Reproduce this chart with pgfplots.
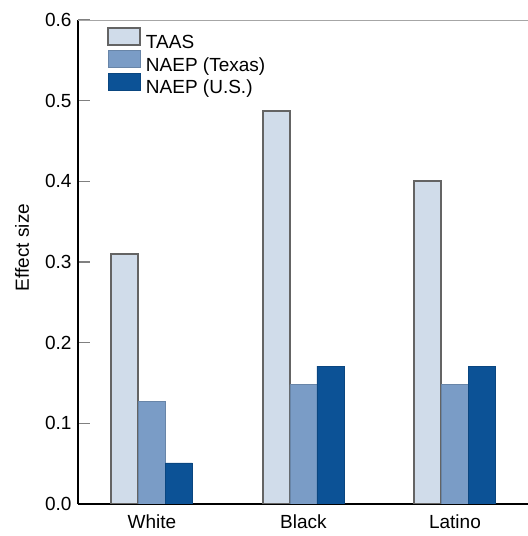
\documentclass[border=0pt]{standalone}
\usepackage{fontspec}
\setmainfont{Liberation Sans}
\usepackage{pgfplots}
\pgfplotsset{compat=1.18}
\definecolor{taas}{RGB}{208,220,234}
\definecolor{taasedge}{RGB}{100,100,100}
\definecolor{naeptx}{RGB}{122,156,198}
\definecolor{naepus}{RGB}{12,82,150}
\begin{document}
\fontsize{19bp}{22bp}\selectfont
\begin{tikzpicture}
\useasboundingbox (0,0) rectangle (528bp,536bp);
\begin{axis}[
    at={(78bp,32bp)}, anchor=south west,
    scale only axis, width=450bp, height=484bp,
    xmin=-0.488, xmax=2.482,
    ymin=0, ymax=0.6,
    ybar=0pt, bar width=27bp,
    axis lines*=left,
    axis line style={-, black, line width=2bp},
    xtick={0,1,2}, xticklabels={White,Black,Latino},
    xtick style={draw=none},
    xticklabel style={yshift=-4bp},
    ytick={0,0.1,0.2,0.3,0.4,0.5,0.6},
    ytick style={draw=gray, line width=1.2bp},
    tick align=inside, major tick length=12bp,
    /pgf/number format/assume math mode=true,
    yticklabel style={/pgf/number format/fixed, /pgf/number format/fixed zerofill, /pgf/number format/precision=1},
    ylabel={Effect size},
    every axis y label/.style={at={(rel axis cs:-0.124,0.53)}, rotate=90, anchor=center},
    legend cell align=left,
    legend style={draw=none, fill=none, at={(0.064,0.985)}, anchor=north west,
        row sep=-3.5bp, inner sep=0pt, column sep=0pt,
        nodes={inner sep=0pt, text height=15bp, text depth=5bp}},
    legend image code/.code={\draw[#1] (0bp,-1.5bp) rectangle (32bp,15.5bp); \path (37bp,0);},
]
\addplot[fill=taas, draw=taasedge, line width=2bp] coordinates {(0,0.31) (1,0.487) (2,0.40)};
\addlegendentry{TAAS}
\addplot[fill=naeptx, draw=naeptx!85!black, line width=0.6bp] coordinates {(0,0.127) (1,0.148) (2,0.148)};
\addlegendentry{NAEP (Texas)}
\addplot[fill=naepus, draw=naepus!85!black, line width=0.6bp] coordinates {(0,0.051) (1,0.171) (2,0.171)};
\addlegendentry{NAEP (U.S.)}
\draw[gray!70, line width=1.5bp] (rel axis cs:0,1) -- (rel axis cs:1,1);
\end{axis}
\end{tikzpicture}
\end{document}
